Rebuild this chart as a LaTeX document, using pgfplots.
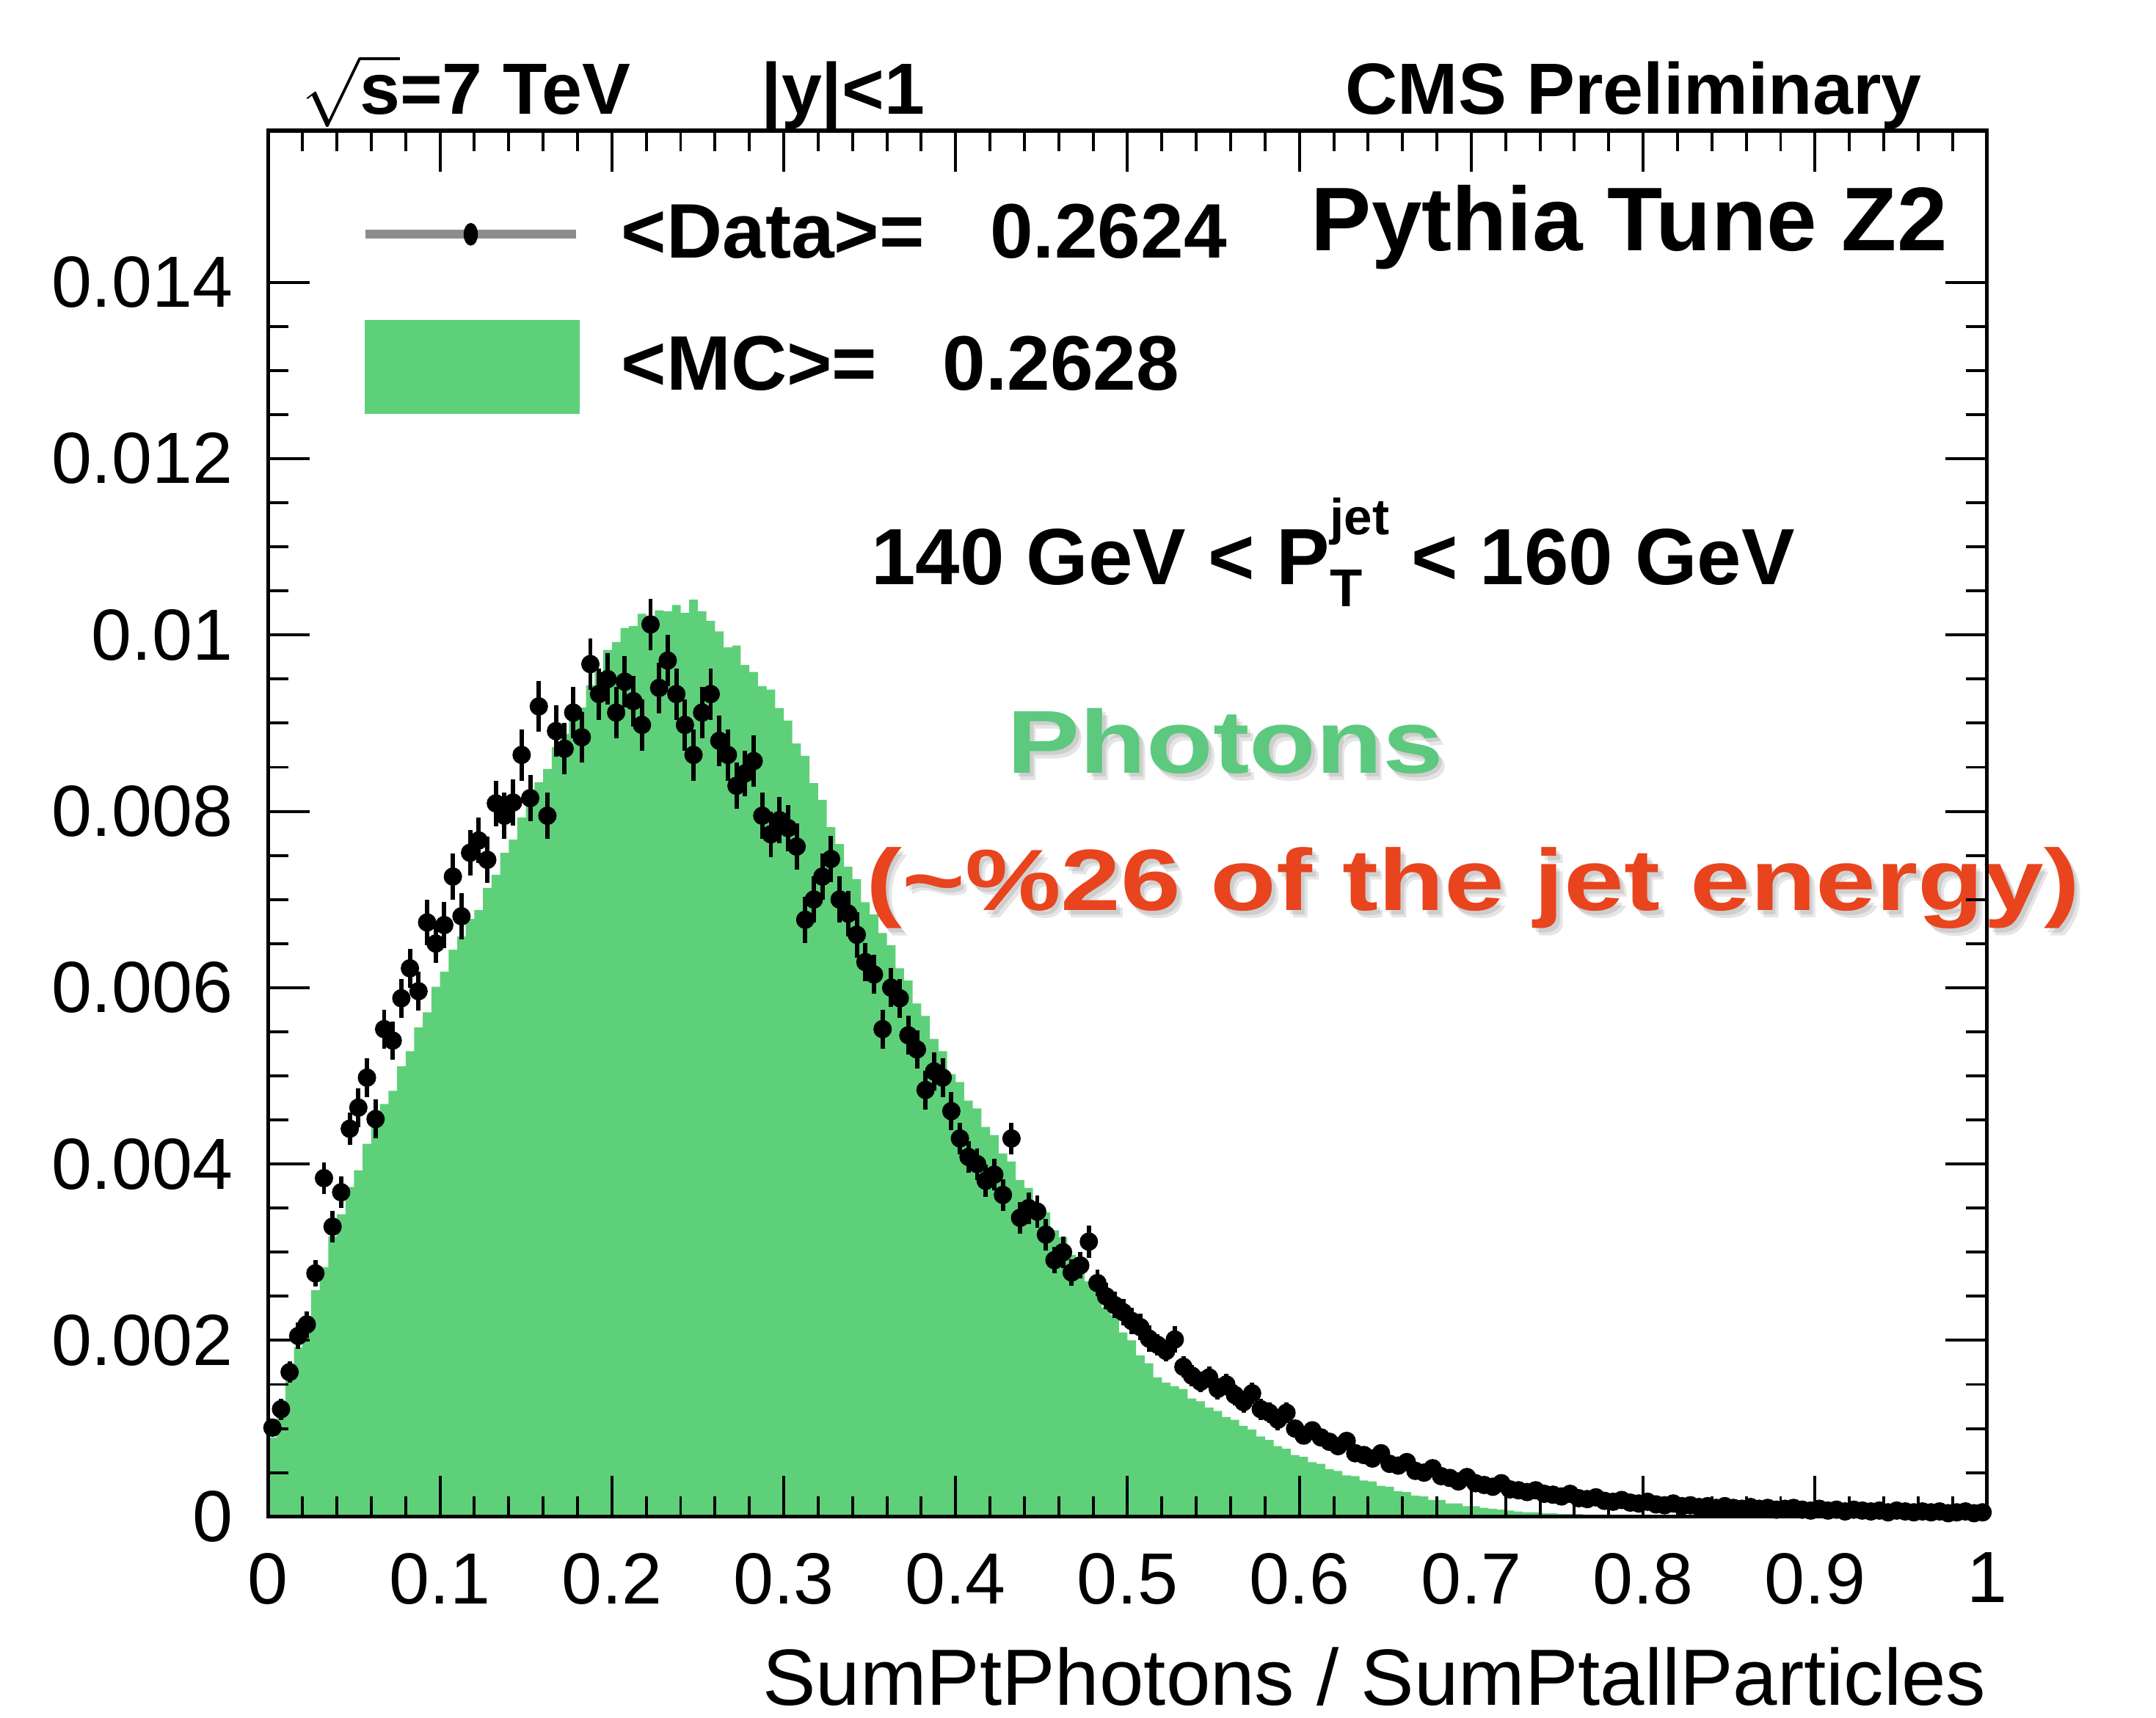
\documentclass[border=0pt]{standalone}
\usepackage{fontspec}
\setmainfont{Liberation Sans}
\usepackage{pgfplots}
\pgfplotsset{compat=1.18}
\usepackage{pgfplotstable}
\usepackage{graphicx}
\definecolor{mcgreen}{RGB}{95,208,122}
\definecolor{phgreen}{RGB}{92,201,126}
\definecolor{redtxt}{RGB}{232,68,30}

\pgfplotstableread{
x y e
0.0025 0.00101 0.00010
0.0075 0.00122 0.00012
0.0125 0.00164 0.00012
0.0175 0.00205 0.00015
0.0225 0.00218 0.00015
0.0275 0.00276 0.00015
0.0325 0.00384 0.00018
0.0375 0.00329 0.00018
0.0425 0.00368 0.00018
0.0475 0.00440 0.00018
0.0525 0.00464 0.00022
0.0575 0.00498 0.00022
0.0625 0.00451 0.00022
0.0675 0.00553 0.00022
0.0725 0.00540 0.00022
0.0775 0.00588 0.00022
0.0825 0.00622 0.00022
0.0875 0.00596 0.00022
0.0925 0.00674 0.00026
0.0975 0.00650 0.00022
0.1025 0.00671 0.00026
0.1075 0.00726 0.00026
0.1125 0.00681 0.00026
0.1175 0.00753 0.00026
0.1225 0.00767 0.00026
0.1275 0.00745 0.00026
0.1325 0.00809 0.00026
0.1375 0.00795 0.00026
0.1425 0.00810 0.00026
0.1475 0.00864 0.00029
0.1525 0.00815 0.00026
0.1575 0.00919 0.00029
0.1625 0.00795 0.00026
0.1675 0.00891 0.00029
0.1725 0.00871 0.00029
0.1775 0.00912 0.00029
0.1825 0.00884 0.00029
0.1875 0.00967 0.00029
0.1925 0.00933 0.00029
0.1975 0.00950 0.00029
0.2025 0.00912 0.00029
0.2075 0.00947 0.00029
0.2125 0.00925 0.00029
0.2175 0.00898 0.00029
0.2225 0.01012 0.00029
0.2275 0.00940 0.00029
0.2325 0.00971 0.00029
0.2375 0.00933 0.00029
0.2425 0.00898 0.00029
0.2475 0.00864 0.00029
0.2525 0.00912 0.00029
0.2575 0.00933 0.00029
0.2625 0.00880 0.00029
0.2675 0.00864 0.00029
0.2725 0.00829 0.00026
0.2775 0.00843 0.00026
0.2825 0.00857 0.00029
0.2875 0.00795 0.00026
0.2925 0.00774 0.00026
0.2975 0.00790 0.00026
0.3025 0.00781 0.00026
0.3075 0.00760 0.00026
0.3125 0.00677 0.00026
0.3175 0.00700 0.00026
0.3225 0.00726 0.00026
0.3275 0.00746 0.00026
0.3325 0.00700 0.00026
0.3375 0.00684 0.00026
0.3425 0.00660 0.00026
0.3475 0.00629 0.00022
0.3525 0.00615 0.00022
0.3575 0.00553 0.00022
0.3625 0.00600 0.00022
0.3675 0.00588 0.00022
0.3725 0.00546 0.00022
0.3775 0.00530 0.00022
0.3825 0.00484 0.00022
0.3875 0.00505 0.00022
0.3925 0.00498 0.00022
0.3975 0.00460 0.00022
0.4025 0.00429 0.00018
0.4075 0.00408 0.00018
0.4125 0.00400 0.00018
0.4175 0.00381 0.00018
0.4225 0.00388 0.00018
0.4275 0.00365 0.00018
0.4325 0.00429 0.00018
0.4375 0.00339 0.00018
0.4425 0.00350 0.00018
0.4475 0.00346 0.00018
0.4525 0.00320 0.00018
0.4575 0.00291 0.00015
0.4625 0.00300 0.00018
0.4675 0.00277 0.00015
0.4725 0.00285 0.00015
0.4775 0.00312 0.00018
0.4825 0.00265 0.00015
0.4875 0.00250 0.00015
0.4925 0.00240 0.00015
0.4975 0.00232 0.00015
0.5025 0.00222 0.00015
0.5075 0.00215 0.00015
0.5125 0.00202 0.00015
0.5175 0.00195 0.00012
0.5225 0.00188 0.00012
0.5275 0.00201 0.00015
0.5325 0.00170 0.00012
0.5375 0.00160 0.00012
0.5425 0.00153 0.00012
0.5475 0.00158 0.00012
0.5525 0.00145 0.00012
0.5575 0.00150 0.00012
0.5625 0.00138 0.00012
0.5675 0.00130 0.00012
0.5725 0.00140 0.00012
0.5775 0.00122 0.00012
0.5825 0.00118 0.00012
0.5875 0.00110 0.00012
0.5925 0.00118 0.00012
0.5975 0.00100 0.00010
0.6025 0.00092 0.00009
0.6075 0.00098 0.00009
0.6125 0.00090 0.00009
0.6175 0.00085 0.00009
0.6225 0.00080 0.00009
0.6275 0.00086 0.00009
0.6325 0.00072 0.00009
0.6375 0.00070 0.00009
0.6425 0.00066 0.00009
0.6475 0.00072 0.00009
0.6525 0.00060 0.00009
0.6575 0.00058 0.00009
0.6625 0.00062 0.00009
0.6675 0.00052 0.00009
0.6725 0.00050 0.00006
0.6775 0.00055 0.00009
0.6825 0.00046 0.00006
0.6875 0.00044 0.00006
0.6925 0.00040 0.00006
0.6975 0.00045 0.00006
0.7025 0.00038 0.00006
0.7075 0.00036 0.00006
0.7125 0.00034 0.00006
0.7175 0.00038 0.00006
0.7225 0.00031 0.00006
0.7275 0.00030 0.00006
0.7325 0.00028 0.00006
0.7375 0.00030 0.00006
0.7425 0.00026 0.00006
0.7475 0.00025 0.00006
0.7525 0.00023 0.00006
0.7575 0.00026 0.00006
0.7625 0.00021 0.00006
0.7675 0.00020 0.00006
0.7725 0.00022 0.00006
0.7775 0.00018 0.00004
0.7825 0.00017 0.00004
0.7875 0.00019 0.00004
0.7925 0.00016 0.00004
0.7975 0.00015 0.00004
0.8025 0.00017 0.00004
0.8075 0.00014 0.00004
0.8125 0.00013 0.00004
0.8175 0.00015 0.00004
0.8225 0.00012 0.00004
0.8275 0.00013 0.00004
0.8325 0.00011 0.00004
0.8375 0.00012 0.00004
0.8425 0.00010 0.00004
0.8475 0.00012 0.00004
0.8525 0.00010 0.00004
0.8575 0.00009 0.00004
0.8625 0.00011 0.00004
0.8675 0.00009 0.00004
0.8725 0.00010 0.00004
0.8775 0.00008 0.00004
0.8825 0.00009 0.00004
0.8875 0.00010 0.00004
0.8925 0.00008 0.00004
0.8975 0.00007 0.00004
0.9025 0.00009 0.00004
0.9075 0.00007 0.00004
0.9125 0.00008 0.00004
0.9175 0.00006 0.00004
0.9225 0.00008 0.00004
0.9275 0.00007 0.00004
0.9325 0.00006 0.00004
0.9375 0.00007 0.00004
0.9425 0.00005 0.00004
0.9475 0.00007 0.00004
0.9525 0.00006 0.00004
0.9575 0.00005 0.00004
0.9625 0.00006 0.00004
0.9675 0.00005 0.00004
0.9725 0.00006 0.00004
0.9775 0.00004 0.00004
0.9825 0.00005 0.00004
0.9875 0.00006 0.00004
0.9925 0.00004 0.00004
0.9975 0.00005 0.00004
}\datatable

\pgfplotstableread{
x y
0.000 0.00090
0.005 0.00126
0.010 0.00154
0.015 0.00192
0.020 0.00220
0.025 0.00257
0.030 0.00283
0.035 0.00318
0.040 0.00343
0.045 0.00374
0.050 0.00393
0.055 0.00423
0.060 0.00443
0.065 0.00468
0.070 0.00483
0.075 0.00511
0.080 0.00528
0.085 0.00555
0.090 0.00572
0.095 0.00601
0.100 0.00618
0.105 0.00643
0.110 0.00658
0.115 0.00678
0.120 0.00688
0.125 0.00713
0.130 0.00728
0.135 0.00753
0.140 0.00768
0.145 0.00793
0.150 0.00808
0.155 0.00833
0.160 0.00848
0.165 0.00873
0.170 0.00888
0.175 0.00908
0.180 0.00918
0.185 0.00943
0.190 0.00958
0.195 0.00983
0.200 0.00992
0.205 0.01008
0.210 0.01010
0.215 0.01024
0.220 0.01018
0.225 0.01028
0.230 0.01027
0.235 0.01034
0.240 0.01025
0.245 0.01040
0.250 0.01027
0.255 0.01016
0.260 0.01004
0.265 0.00986
0.270 0.00988
0.275 0.00966
0.280 0.00958
0.285 0.00942
0.290 0.00938
0.295 0.00917
0.300 0.00903
0.305 0.00877
0.310 0.00863
0.315 0.00832
0.320 0.00813
0.325 0.00782
0.330 0.00763
0.335 0.00737
0.340 0.00723
0.345 0.00697
0.350 0.00683
0.355 0.00662
0.360 0.00648
0.365 0.00622
0.370 0.00608
0.375 0.00582
0.380 0.00568
0.385 0.00542
0.390 0.00528
0.395 0.00502
0.400 0.00493
0.405 0.00472
0.410 0.00463
0.415 0.00442
0.420 0.00433
0.425 0.00412
0.430 0.00403
0.435 0.00382
0.440 0.00373
0.445 0.00352
0.450 0.00345
0.455 0.00325
0.460 0.00317
0.465 0.00297
0.470 0.00288
0.475 0.00267
0.480 0.00258
0.485 0.00237
0.490 0.00229
0.495 0.00209
0.500 0.00200
0.505 0.00183
0.510 0.00174
0.515 0.00158
0.520 0.00152
0.525 0.00148
0.530 0.00145
0.535 0.00134
0.540 0.00131
0.545 0.00124
0.550 0.00120
0.555 0.00113
0.560 0.00110
0.565 0.00103
0.570 0.00099
0.575 0.00091
0.580 0.00087
0.585 0.00080
0.590 0.00077
0.595 0.00070
0.600 0.00068
0.605 0.00062
0.610 0.00060
0.615 0.00054
0.620 0.00052
0.625 0.00047
0.630 0.00046
0.635 0.00041
0.640 0.00040
0.645 0.00035
0.650 0.00034
0.655 0.00029
0.660 0.00028
0.665 0.00024
0.670 0.00023
0.675 0.00019
0.680 0.00019
0.685 0.00015
0.690 0.00015
0.695 0.00012
0.700 0.00012
0.705 0.00010
0.710 0.00009
0.715 0.00008
0.720 0.00007
0.725 0.00006
0.730 0.00005
0.735 0.00005
0.740 0.00004
0.745 0.00004
0.750 0.00003
0.755 0.00003
0.760 0.00003
0.765 0.00002
0.770 0.00002
0.775 0.00002
0.780 0.00002
0.785 0.00002
0.790 0.00001
0.795 0.00001
0.800 0.00001
0.805 0.00001
0.810 0.00001
0.815 0.00001
0.820 0.00001
0.825 0.00001
0.830 0.00001
0.835 0.00001
0.840 0.00001
0.845 0.00001
0.850 0.00001
0.855 0.00001
0.860 0.00001
0.865 0.00001
0.870 0.00001
0.875 0.00001
0.880 0.00001
0.885 0.00001
0.890 0.00001
0.895 0.00001
0.900 0.00001
0.905 0.00001
0.910 0.00001
0.915 0.00001
0.920 0.00001
0.925 0.00001
0.930 0.00001
0.935 0.00001
0.940 0.00001
0.945 0.00001
0.950 0.00001
0.955 0.00001
0.960 0.00001
0.965 0.00001
0.970 0.00001
0.975 0.00001
0.980 0.00001
0.985 0.00001
0.990 0.00001
0.995 0.00001
1.000 0.00001
}\mctable

\newcommand{\shadowtext}[4]{% pos, color, fontsize, content
  \node[anchor=base west, text=black, opacity=0.10, font=\bfseries\fontsize{#3}{#3}\selectfont] at ([shift={(0.045cm,-0.055cm)}]#1) {#4};
  \node[anchor=base west, text=black, opacity=0.10, font=\bfseries\fontsize{#3}{#3}\selectfont] at ([shift={(0.025cm,-0.03cm)}]#1) {#4};
  \node[anchor=base west, text=#2, font=\bfseries\fontsize{#3}{#3}\selectfont] at (#1) {#4};
}

\begin{document}
\begin{tikzpicture}
\begin{axis}[
  scale only axis, width=12.5cm, height=10.08cm,
  xmin=0, xmax=1, ymin=0, ymax=0.01572,
  scaled x ticks=false, scaled y ticks=false,
  clip=false, axis on top,
  axis line style={line width=0.8pt},
  tick align=inside,
  major tick length=0.3cm, minor tick length=0.15cm,
  every tick/.style={black, line width=0.6pt},
  xtick={0,0.1,0.2,0.3,0.4,0.5,0.6,0.7,0.8,0.9,1},
  xticklabels={0,0.1,0.2,0.3,0.4,0.5,0.6,0.7,0.8,0.9,1},
  ytick={0,0.002,0.004,0.006,0.008,0.01,0.012,0.014},
  yticklabels={0,0.002,0.004,0.006,0.008,0.01,0.012,0.014},
  minor x tick num=4, minor y tick num=3,
  tick label style={font=\fontsize{15}{15}\selectfont},
  xticklabel style={anchor=north, inner sep=0pt, yshift=-0.256cm},
  yticklabel style={anchor=east, inner sep=0pt, xshift=-0.25cm},
  xlabel={SumPtPhotons / SumPtallParticles},
  x label style={at={(axis description cs:1,0)}, anchor=base east, yshift=-1.37cm, inner sep=0pt, font=\fontsize{16.5}{16.5}\selectfont},
  legend style={at={(axis description cs:0.0536,0.948)}, anchor=north west, draw=none, fill=none,
     inner sep=0pt, row sep=0.4cm, column sep=0.30cm, nodes={inner sep=0pt},
     font=\bfseries\fontsize{16}{16}\selectfont},
  legend cell align=left,
]
\addlegendimage{legend image code/.code={
  \draw[black!45, line width=1.8pt] (0cm,0cm) -- (1.53cm,0cm);
  \fill[black] (0.765cm,0cm) ellipse[x radius=0.045cm, y radius=0.075cm];}}
\addlegendentry{<Data>=\hspace{0.85em}0.2624}
\addlegendimage{legend image code/.code={
  \fill[mcgreen] (0cm,-0.335cm) rectangle (1.55cm,0.335cm);}}
\addlegendentry{<MC>=\hspace{0.85em}0.2628}

\addplot[draw=none, fill=mcgreen, const plot mark left, forget plot] table[x=x, y=y] {\mctable} \closedcycle;

\addplot[only marks, mark=*, mark size=1.7pt, mark options={fill=black, draw=black}, black, forget plot,
  error bars/.cd, y dir=both, y explicit, error mark=none, error bar style={line width=0.9pt, black}]
  table[x=x, y=y, y error=e] {\datatable};

\node[anchor=base west, inner sep=0pt, font=\bfseries\fontsize{15}{15}\selectfont] at (rel axis cs:0.019,1.012) {$\sqrt{\mbox{\bfseries s}}$=7 TeV};
\node[anchor=base west, font=\bfseries\fontsize{15}{15}\selectfont] at (rel axis cs:0.277,1.012) {|y|<1};
\node[anchor=base east, font=\bfseries\fontsize{15}{15}\selectfont] at (rel axis cs:0.972,1.012) {CMS Preliminary};
\node[anchor=base west, font=\bfseries\fontsize{18.7}{18.7}\selectfont] at (rel axis cs:0.597,0.9132) {Pythia Tune Z2};
\node[anchor=base west, font=\bfseries\fontsize{16.5}{16.5}\selectfont] at (rel axis cs:0.341,0.6726)
  {140 GeV < P\makebox[0pt][l]{\raisebox{-0.16cm}{\fontsize{11}{11}\selectfont T}}\raisebox{0.36cm}{\fontsize{10.5}{10.5}\selectfont jet} < 160 GeV};
\shadowtext{rel axis cs:0.420,0.5367}{phgreen}{18.5}{\scalebox{1.22}[1]{Photons}}
\shadowtext{rel axis cs:0.338,0.4375}{redtxt}{18}{\scalebox{1.24}[1]{(\textasciitilde\%26 of the jet energy)}}
\end{axis}
\pgfresetboundingbox
\path ([shift={(-1.95cm,-1.46cm)}]current axis.south west) rectangle ([shift={(1.23cm,0.95cm)}]current axis.north east);
\end{tikzpicture}
\end{document}
